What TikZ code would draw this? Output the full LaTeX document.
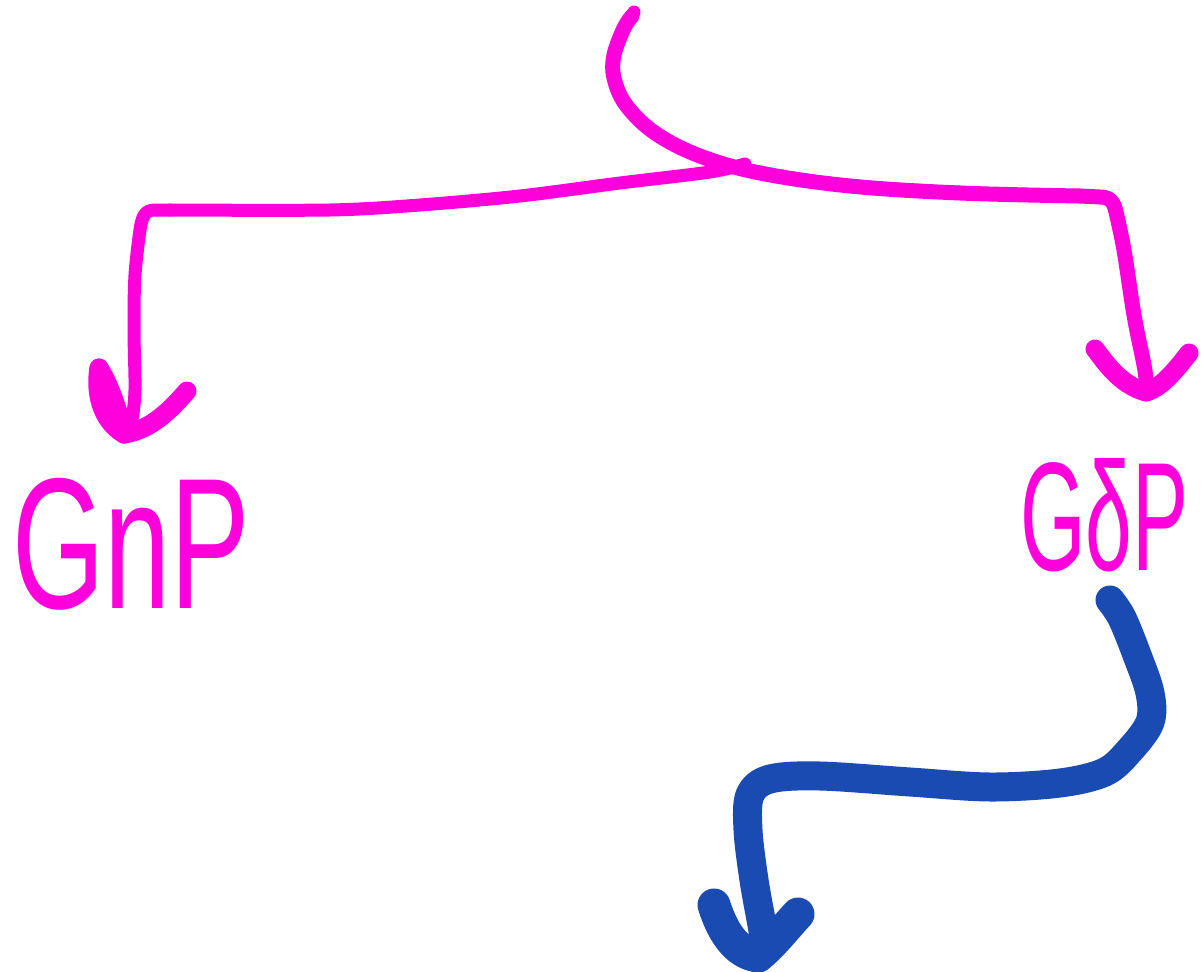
\documentclass[tikz,border=0pt]{standalone}
\usepackage{fontspec}
\setmainfont{Liberation Sans}
\definecolor{mag}{RGB}{255,0,220}
\definecolor{inkblue}{RGB}{26,75,179}
\begin{document}
\begin{tikzpicture}[x=1pt,y=-1pt,
  magline/.style={draw=mag,line width=13pt,line cap=round,line join=round},
  magtip/.style={draw=mag,line width=19pt,line cap=round,line join=round},
  blueline/.style={draw=inkblue,line width=29pt,line cap=round,line join=round},
  bluetip/.style={draw=inkblue,line width=33pt,line cap=round,line join=round},
  lbl/.style={text=mag,inner sep=0pt,anchor=north west}]
\useasboundingbox (0,0) rectangle (1203,972);
\fill[white] (0,0) rectangle (1203,972);
% labels
\node[lbl] (gnp) at (12,478) {\resizebox{238pt}{130pt}{GnP}};
\node[lbl] (gdp) at (1020,458) {\resizebox{168pt}{112pt}{GδP}};
% named ends
\coordinate (start) at (632,16);
\coordinate (tipL) at (124,434);
\coordinate (tipR) at (1146,392);
\coordinate (bstart) at (1110,600);
\coordinate (tipB) at (758,956);
% top curve to right arrow
\draw[magline,line width=15pt] plot[smooth,tension=0.6] coordinates {(start) (624,28) (614,55) (614,78) (626,105) (655,133) (700,156) (760,173) (850,186) (960,193) (1080,196)};
\draw[magline,line width=15pt] (1080,196) -- (1100,197) .. controls (1110,197) and (1114,202) .. (1116,212)
  plot[smooth,tension=0.6] coordinates {(1116,212) (1124,250) (1134,315) (1144,365) (1146,380)};
\draw[magline] (start) -- (634,12);
% left branch
\draw[magline] plot[smooth,tension=0.5] coordinates {(745,164) (710,172) (620,183) (520,196) (420,205) (330,210) (170,210)};
\draw[magline] (170,210) -- (155,210) .. controls (145,210) and (142,216) .. (140,230)
  plot[smooth,tension=0.6] coordinates {(140,230) (135,275) (134,330) (135,390) (132,420)};
% left arrowhead
\draw[magtip] (99,368) .. controls (95,390) and (100,420) .. (tipL);
\draw[magtip] (99,368) .. controls (110,385) and (118,410) .. (tipL);
\draw[magtip] (187,391) .. controls (172,408) and (152,430) .. (tipL);
% right arrowhead
\draw[magtip] (1095,349) .. controls (1105,362) and (1120,385) .. (tipR);
\draw[magtip] (1189,353) .. controls (1178,367) and (1162,388) .. (tipR);
% blue arrow
\draw[blueline] plot[smooth,tension=0.55] coordinates {(bstart) (1122,618) (1137,655) (1150,693) (1150,722) (1130,750) (1105,772) (1060,783) (990,787) (910,782) (820,776) (770,779) (750,795) (748,830) (754,880) (762,925) (765,945)};
\draw[bluetip] (714,905) .. controls (722,930) and (735,953) .. (tipB);
\draw[bluetip] (798,914) .. controls (785,928) and (772,945) .. (tipB);
\end{tikzpicture}
\end{document}
